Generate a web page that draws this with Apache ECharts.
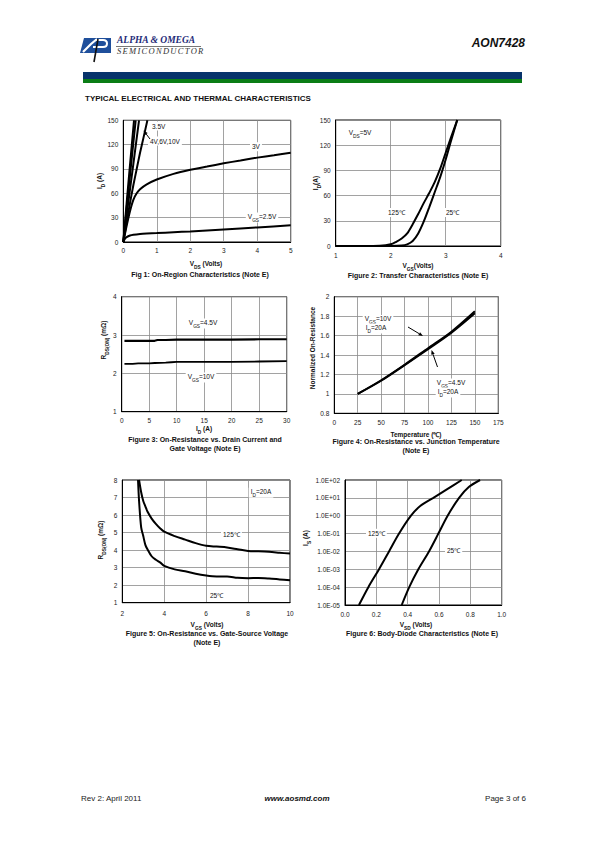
<!DOCTYPE html>
<html><head><meta charset="utf-8">
<script src="https://cdn.jsdelivr.net/npm/echarts@6/dist/echarts.min.js"></script>
<style>
body{margin:0;background:#fff;}
#page{position:relative;width:595px;height:842px;overflow:hidden;background:#fff;font-family:"Liberation Sans",Arial,sans-serif;}
#chart{position:absolute;left:0;top:0;width:595px;height:842px;}
.abs{position:absolute;white-space:nowrap;}
</style></head>
<body><div id="page">
<div id="chart"></div>
<svg class="abs" style="left:76px;top:34px" width="40" height="30" viewBox="0 0 40 30">
  <polygon points="8,4 35,4 35,19 4,19" fill="#1f4f9b"/>
  <polyline points="7,18 15,10 21,5" fill="none" stroke="#fff" stroke-width="2.2"/>
  <path d="M19,6 L27,6 Q31,6 31,9.5 Q31,13 27,13 L17,13" fill="none" stroke="#fff" stroke-width="2"/>
  <line x1="22" y1="5" x2="18" y2="28" stroke="#111" stroke-width="1.6"/>
</svg>
<div class="abs" style="left:117px;top:35px;font:italic bold 9.5px 'Liberation Serif',serif;color:#1d2a78;">ALPHA &amp; OMEGA</div>
<div class="abs" style="left:116px;top:45.5px;width:85px;height:0;border-top:0.8px solid #777;"></div>
<div class="abs" style="left:117px;top:46px;font:italic 8.5px 'Liberation Serif',serif;color:#333;letter-spacing:1.3px;">SEMICONDUCTOR</div>
<div class="abs" style="right:70px;top:36px;font:italic bold 12px 'Liberation Sans',Arial,sans-serif;color:#111;">AON7428</div>
<div class="abs" style="left:83px;top:71.5px;width:439px;height:7px;background:#07336b;"></div>
<div class="abs" style="left:83px;top:78.5px;width:439px;height:4.5px;background:#0b7d16;"></div>
<div class="abs" style="left:85px;top:94px;font:bold 8px 'Liberation Sans',Arial,sans-serif;color:#111;">TYPICAL ELECTRICAL AND THERMAL CHARACTERISTICS</div>
<div class="abs" style="left:81px;top:794px;font:8px 'Liberation Sans',Arial,sans-serif;color:#222;">Rev 2: April 2011</div>
<div class="abs" style="left:261px;top:794px;width:72px;text-align:center;font:italic bold 8px 'Liberation Sans',Arial,sans-serif;color:#111;">www.aosmd.com</div>
<div class="abs" style="right:69px;top:794px;font:8px 'Liberation Sans',Arial,sans-serif;color:#222;">Page 3 of 6</div>
</div>
<script>
// ---------- DATA ----------
// Fig 1: On-region characteristics (VDS volts, ID amps)
const f1_10V_x = [0, 0.1, 0.2, 0.32];
const f1_10V_y = [0, 48, 95, 150];
const f1_6V_x = [0, 0.1, 0.2, 0.3, 0.37];
const f1_6V_y = [0, 42, 82, 122, 150];
const f1_4V_x = [0, 0.1, 0.2, 0.3, 0.4, 0.47];
const f1_4V_y = [0, 33, 65, 96, 128, 150];
const f1_35V_x = [0, 0.05, 0.1, 0.2, 0.3, 0.4, 0.5, 0.6, 0.72];
const f1_35V_y = [0, 12, 24, 48, 70, 90, 110, 128, 150];
const f1_3V_x = [0, 0.05, 0.1, 0.2, 0.3, 0.4, 0.5, 0.7, 1, 1.5, 2, 2.5, 3, 3.5, 4, 4.5, 5];
const f1_3V_y = [0, 10, 20, 38, 52, 60, 65, 71, 77, 84, 89, 93, 97, 100.5, 104, 107, 110];
const f1_25V_x = [0, 0.05, 0.1, 0.2, 0.3, 0.5, 0.7, 1, 1.5, 2, 3, 4, 5];
const f1_25V_y = [0, 4, 6, 8, 9, 10, 10.5, 11, 12, 13, 15.5, 18, 20.5];
// Fig 2: Transfer characteristics (VGS volts, ID amps)
const f2_25_x = [1, 1.5, 2, 2.2, 2.3, 2.4, 2.5, 2.6, 2.7, 2.8, 2.9, 3.0, 3.1, 3.21];
const f2_25_y = [0, 0, 0, 0.5, 2, 6, 15, 29, 46, 64, 82, 103, 126, 150];
const f2_125_x = [1, 1.5, 1.8, 2, 2.1, 2.2, 2.3, 2.4, 2.5, 2.6, 2.7, 2.8, 2.9, 3.0, 3.1, 3.21];
const f2_125_y = [0, 0, 0.3, 2, 5, 9, 15, 26, 38, 51, 63, 76, 92, 111, 130, 150];
// Fig 3: RDS(ON) vs ID (A, mOhm)
const f3_45_x = [0.5, 2, 4, 6, 6.5, 8, 10, 15, 20, 25, 30];
const f3_45_y = [2.85, 2.85, 2.85, 2.85, 2.87, 2.87, 2.88, 2.88, 2.88, 2.89, 2.89];
const f3_10_x = [0.5, 2, 3, 5, 6, 8, 9, 10, 15, 20, 25, 30];
const f3_10_y = [2.25, 2.25, 2.26, 2.26, 2.27, 2.28, 2.29, 2.3, 2.3, 2.3, 2.31, 2.32];
// Fig 4: Normalized RDS(ON) vs temperature
const f4_T = [25, 50, 75, 100, 125, 150];
const f4_10V = [1, 1.14, 1.3, 1.47, 1.64, 1.85];
const f4_45V = [1, 1.135, 1.295, 1.46, 1.63, 1.83];
// Fig 5: RDS(ON) vs VGS (V, mOhm)
const f5_125_x = [2.8, 2.9, 3, 3.1, 3.2, 3.4, 3.6, 3.8, 4, 4.5, 5, 5.5, 6, 6.5, 7, 7.5, 8, 8.5, 9, 9.5, 10];
const f5_125_y = [8, 7.3, 6.8, 6.5, 6.2, 5.8, 5.5, 5.25, 5.05, 4.8, 4.6, 4.4, 4.25, 4.2, 4.15, 4.05, 3.95, 3.93, 3.9, 3.85, 3.8];
const f5_25_x = [2.75, 2.8, 2.9, 3, 3.1, 3.2, 3.4, 3.6, 3.8, 4, 4.5, 5, 5.5, 6, 6.5, 7, 7.5, 8, 8.5, 9, 9.5, 10];
const f5_25_y = [8, 6.8, 5.3, 4.8, 4.3, 4.05, 3.65, 3.45, 3.3, 3.1, 2.9, 2.8, 2.65, 2.55, 2.5, 2.5, 2.42, 2.4, 2.41, 2.38, 2.33, 2.28];
// Fig 6: Body diode (VSD volts, IS amps, log)
const f6_125_x = [0.089, 0.149, 0.217, 0.281, 0.345, 0.421, 0.48, 0.564, 0.65, 0.745];
const f6_125_y = [1e-5, 1e-4, 1e-3, 1e-2, 1e-1, 1, 3.5, 10, 30, 100];
const f6_25_x = [0.362, 0.41, 0.468, 0.536, 0.596, 0.655, 0.728, 0.79, 0.862];
const f6_25_y = [1e-5, 1e-4, 1e-3, 1e-2, 1e-1, 1, 10, 40, 100];

// ---------- CHART ----------
const FONT = '"Liberation Sans", Arial, sans-serif';
const zip = (xs, ys) => xs.map((x, i) => [x, ys[i]]);
const chart = echarts.init(document.getElementById('chart'), null, {renderer: 'svg', width: 595, height: 842});

const grids = [
  {left: 123.3, top: 120.3, width: 167.4, height: 121.7},
  {left: 335.7, top: 120, width: 165, height: 126},
  {left: 121.7, top: 296.7, width: 165, height: 115},
  {left: 334.3, top: 296.7, width: 164, height: 116.6},
  {left: 122.3, top: 480, width: 167.7, height: 122.7},
  {left: 345, top: 480, width: 156.7, height: 125}
].map(g => Object.assign({show: true, borderColor: '#000', borderWidth: 1, backgroundColor: 'transparent', containLabel: false}, g));

function axis(gi, min, max, interval, margin, extra) {
  return Object.assign({
    gridIndex: gi, type: 'value', min, max, interval,
    axisLine: {show: true, onZero: false, lineStyle: {color: '#000', width: 1}},
    axisTick: {show: false},
    axisLabel: {fontSize: 6.5, color: '#222', margin, fontFamily: FONT, showMinLabel: true, showMaxLabel: true},
    splitLine: {show: true, lineStyle: {color: '#8a8a8a', width: 0.8}}
  }, extra || {});
}
const logFmt = v => {
  const e = Math.round(Math.log10(v));
  const s = e < 0 ? '-' : '+';
  const a = Math.abs(e);
  return '1.0E' + s + (a < 10 ? '0' + a : a);
};
const xAxes = [
  axis(0, 0, 5, 1, 5),
  axis(1, 1, 4, 1, 6),
  axis(2, 0, 30, 5, 5),
  axis(3, 0, 175, 25, 6),
  axis(4, 2, 10, 2, 7.5),
  axis(5, 0, 1, 0.2, 5.5, {axisLabel: {fontSize: 6.5, color: '#222', margin: 5.5, fontFamily: FONT, formatter: v => v.toFixed(1)}})
];
const yAxes = [
  axis(0, 0, 150, 30, 5),
  axis(1, 0, 150, 30, 5),
  axis(2, 1, 4, 1, 5),
  axis(3, 0.8, 2, 0.2, 5),
  axis(4, 1, 8, 1, 5),
  Object.assign(axis(5, 1e-5, 100, 1, 5), {type: 'log', logBase: 10, axisLabel: {fontSize: 6.5, color: '#222', margin: 5, fontFamily: FONT, formatter: logFmt}, minorTick: {show: false}, minorSplitLine: {show: false}})
];

function line(gi, xs, ys, w, smooth) {
  return {type: 'line', xAxisIndex: gi, yAxisIndex: gi, data: zip(xs, ys), showSymbol: false, symbol: 'none',
    smooth: smooth || false, lineStyle: {color: '#000', width: w || 2}, clip: true, z: 3};
}
const series = [
  line(0, f1_10V_x, f1_10V_y, 2), line(0, f1_6V_x, f1_6V_y, 2), line(0, f1_4V_x, f1_4V_y, 2),
  line(0, f1_35V_x, f1_35V_y, 2, 0.2), line(0, f1_3V_x, f1_3V_y, 2, 0.15), line(0, f1_25V_x, f1_25V_y, 2, 0.2),
  line(1, f2_25_x, f2_25_y, 2, 0.3), line(1, f2_125_x, f2_125_y, 2, 0.3),
  line(2, f3_45_x, f3_45_y, 2.2), line(2, f3_10_x, f3_10_y, 1.8),
  line(3, f4_T, f4_10V, 2, 0.3), line(3, f4_T, f4_45V, 2, 0.3),
  line(4, f5_125_x, f5_125_y, 2, 0.3), line(4, f5_25_x, f5_25_y, 2, 0.3),
  line(5, f6_125_x, f6_125_y, 2, 0.3), line(5, f6_25_x, f6_25_y, 2, 0.3)
];

// ---------- TEXT GRAPHICS ----------
const RICH = {
  a: {fontSize: 6.5, fontFamily: FONT, fontWeight: 'bold', lineHeight: 10, verticalAlign: 'top', fill: '#111'},
  s: {fontSize: 4.8, fontFamily: FONT, fontWeight: 'bold', lineHeight: 5, verticalAlign: 'bottom', fill: '#111'},
  n: {fontSize: 6.5, fontFamily: FONT, lineHeight: 10, verticalAlign: 'top', fill: '#111'},
  ns: {fontSize: 4.8, fontFamily: FONT, lineHeight: 5, verticalAlign: 'bottom', fill: '#111'}
};
function rt(text, x, y, rot, bg) {
  const st = {text, x: 0, y: 0, align: 'center', verticalAlign: 'middle', rich: RICH};
  if (bg) { st.backgroundColor = '#fff'; st.padding = [0, 2]; }
  return {type: 'text', x, y, rotation: rot || 0, z: 50, style: st};
}
function cap(text, x, y) {
  return {type: 'text', x, y, z: 50, style: {text, x: 0, y: 0, align: 'center', verticalAlign: 'middle', fill: '#111',
    font: 'bold 7px ' + FONT}};
}
function note(text, x, y, align) {
  return {type: 'text', x, y, z: 50, style: {text, x: 0, y: 0, align: align || 'left', verticalAlign: 'middle', fill: '#111',
    font: '6.5px ' + FONT, backgroundColor: '#fff', padding: [1, 2]}};
}
function arrow(x1, y1, x2, y2) {
  const ang = Math.atan2(y2 - y1, x2 - x1), L = 4.5, W = 1.8;
  const bx = x2 - L * Math.cos(ang), by = y2 - L * Math.sin(ang);
  const px = -Math.sin(ang) * W, py = Math.cos(ang) * W;
  return [
    {type: 'line', z: 55, shape: {x1, y1, x2: bx, y2: by}, style: {stroke: '#000', lineWidth: 1}},
    {type: 'polygon', z: 55, shape: {points: [[x2, y2], [bx + px, by + py], [bx - px, by - py]]}, style: {fill: '#000'}}
  ];
}
const P = Math.PI / 2;
const graphics = [
  // Fig 1
  rt('{a|I}{s|D}{a| (A)}', 101, 181, P),
  rt('{a|V}{s|DS}{a| (Volts)}', 206, 265),
  cap('Fig 1: On-Region Characteristics (Note E)', 200, 274),
  note('3.5V', 150, 126),
  note('4V,6V,10V', 148, 141),
  note('3V', 250, 146.7),
  rt('{n|V}{ns|GS}{n|=2.5V}', 262, 217.5, 0, true),
  ...arrow(150, 139, 143.5, 130.5),
  // Fig 2
  rt('{a|I}{s|D}{a|(A)}', 316.5, 183, P),
  rt('{a|V}{s|GS}{a|(Volts)}', 418, 267),
  cap('Figure 2: Transfer Characteristics (Note E)', 418, 275),
  rt('{n|V}{ns|DS}{n|=5V}', 360, 134),
  note('125\u2103', 386, 212.5),
  note('25\u2103', 444, 212.5),
  // Fig 3
  rt('{a|R}{s|DS(ON)}{a| (m\u03A9)}', 105, 340, P),
  rt('{a|I}{s|D}{a| (A)}', 204, 430),
  cap('Figure 3: On-Resistance vs. Drain Current and', 205, 439.5),
  cap('Gate Voltage (Note E)', 205, 448.5),
  rt('{n|V}{ns|GS}{n|=4.5V}', 203, 323.5, 0, true),
  rt('{n|V}{ns|GS}{n|=10V}', 201, 377.5, 0, true),
  // Fig 4
  {type: 'text', x: 312.3, y: 348, rotation: P, z: 50, style: {text: 'Normalized On-Resistance', x: 0, y: 0, align: 'center', verticalAlign: 'middle', fill: '#111', font: 'bold 6.5px ' + FONT}},
  {type: 'text', x: 416, y: 434, z: 50, style: {text: 'Temperature (\u2103)', x: 0, y: 0, align: 'center', verticalAlign: 'middle', fill: '#111', font: 'bold 6.5px ' + FONT}},
  cap('Figure 4: On-Resistance vs. Junction Temperature', 416, 441.5),
  cap('(Note E)', 416, 450),
  rt('{n|V}{ns|GS}{n|=10V}', 378, 320, 0, true),
  rt('{n|I}{ns|D}{n|=20A}', 376, 328.5, 0, true),
  rt('{n|V}{ns|GS}{n|=4.5V}', 451, 383.5, 0, true),
  rt('{n|I}{ns|D}{n|=20A}', 448, 392.5, 0, true),
  ...arrow(408, 327, 423, 336),
  ...arrow(437.5, 367, 431.5, 350),
  // Fig 5
  rt('{a|R}{s|DS(ON)}{a| (m\u03A9)}', 101.7, 540, P),
  rt('{a|V}{s|GS}{a| (Volts)}', 207, 626),
  cap('Figure 5: On-Resistance vs. Gate-Source Voltage', 207, 633.5),
  cap('(Note E)', 207, 642),
  rt('{n|I}{ns|D}{n|=20A}', 261, 492.7, 0, true),
  note('125\u2103', 221, 534),
  note('25\u2103', 208, 595),
  // Fig 6
  rt('{a|I}{s|S}{a| (A)}', 306.7, 538, P),
  rt('{a|V}{s|SD}{a| (Volts)}', 416, 625.5),
  cap('Figure 6: Body-Diode Characteristics (Note E)', 422, 633.5),
  note('125\u2103', 366, 533.3),
  note('25\u2103', 445, 550.7)
];

chart.setOption({
  animation: false,
  backgroundColor: 'transparent',
  grid: grids,
  xAxis: xAxes,
  yAxis: yAxes,
  series,
  graphic: graphics
});
</script>
</body></html>
